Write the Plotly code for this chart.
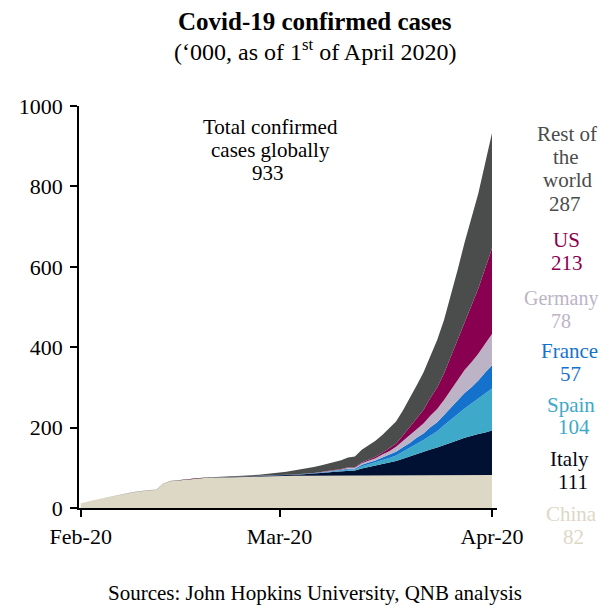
import plotly.graph_objects as go
import pandas as pd

dates = pd.date_range('2020-02-01', '2020-04-01', freq='D')

# confirmed cases, thousands (Feb 1 .. Apr 1)
china = [11.9, 16.6, 19.7, 23.7, 27.4, 30.6, 34.1, 36.8, 39.8, 42.4, 44.4, 44.8, 59.9, 66.4, 68.4, 70.5, 72.4, 74.2, 74.6, 75.1, 75.6, 77.0, 77.0, 77.2, 77.8, 78.2, 78.6, 78.9, 79.4,
         79.9, 80.1, 80.3, 80.4, 80.5, 80.7, 80.8, 80.8, 80.9, 80.9, 80.9, 80.9, 80.9, 81.0, 81.0, 81.0, 81.1, 81.1, 81.2, 81.3, 81.3, 81.4, 81.5, 81.6, 81.7, 81.8, 81.9, 82.0, 82.1, 82.2, 82.3, 82.4]
italy = [0, 0, 0, 0, 0, 0, 0, 0, 0, 0, 0, 0, 0, 0, 0, 0, 0, 0, 0, 0, 0.02, 0.06, 0.16, 0.23, 0.32, 0.45, 0.66, 0.89, 1.13,
         1.69, 2.04, 2.50, 3.09, 3.86, 4.64, 5.88, 7.38, 9.17, 10.15, 12.46, 12.46, 17.66, 21.16, 24.75, 27.98, 31.51, 35.71, 41.04, 47.02, 53.58, 59.14, 63.93, 69.18, 74.39, 80.59, 86.50, 92.47, 97.69, 101.74, 105.79, 110.57]
spain = [0, 0, 0, 0, 0, 0, 0, 0, 0, 0, 0, 0, 0, 0, 0, 0, 0, 0, 0, 0, 0, 0, 0, 0, 0.01, 0.01, 0.02, 0.03, 0.05,
         0.08, 0.12, 0.17, 0.22, 0.26, 0.40, 0.50, 0.67, 1.07, 1.70, 2.28, 2.28, 5.23, 6.39, 7.80, 9.94, 11.75, 13.91, 17.96, 20.41, 25.37, 28.77, 35.14, 39.89, 49.52, 57.79, 65.72, 73.24, 80.11, 87.96, 95.92, 104.12]
france = [0.01, 0.01, 0.01, 0.01, 0.01, 0.01, 0.01, 0.01, 0.01, 0.01, 0.01, 0.01, 0.01, 0.01, 0.01, 0.01, 0.01, 0.01, 0.01, 0.01, 0.01, 0.01, 0.01, 0.01, 0.01, 0.02, 0.04, 0.06, 0.10,
          0.13, 0.19, 0.20, 0.29, 0.38, 0.66, 0.96, 1.14, 1.22, 1.79, 2.29, 2.29, 3.68, 4.50, 4.53, 6.68, 7.72, 9.12, 10.97, 12.76, 14.46, 16.24, 20.12, 22.62, 25.60, 29.55, 33.40, 38.11, 40.71, 45.17, 52.83, 57.75]
germany = [0.01, 0.01, 0.01, 0.01, 0.01, 0.01, 0.01, 0.01, 0.01, 0.01, 0.02, 0.02, 0.02, 0.02, 0.02, 0.02, 0.02, 0.02, 0.02, 0.02, 0.02, 0.02, 0.02, 0.02, 0.02, 0.03, 0.05, 0.06, 0.07,
           0.13, 0.16, 0.20, 0.26, 0.48, 0.67, 0.80, 1.04, 1.18, 1.46, 1.91, 2.08, 3.68, 4.59, 5.80, 7.27, 9.26, 12.33, 15.32, 19.85, 22.21, 24.87, 29.06, 32.99, 37.32, 43.94, 50.87, 57.70, 62.10, 66.89, 71.81, 77.87]
us = [0.01, 0.01, 0.01, 0.01, 0.01, 0.01, 0.01, 0.01, 0.01, 0.01, 0.01, 0.01, 0.01, 0.01, 0.01, 0.01, 0.01, 0.01, 0.01, 0.01, 0.02, 0.02, 0.02, 0.05, 0.05, 0.06, 0.06, 0.06, 0.07,
      0.07, 0.10, 0.12, 0.15, 0.22, 0.26, 0.40, 0.52, 0.58, 0.96, 1.28, 1.66, 2.18, 2.73, 3.50, 4.63, 6.42, 7.78, 13.75, 19.27, 25.60, 33.28, 43.84, 53.74, 65.78, 83.84, 101.66, 121.47, 140.91, 161.83, 188.17, 213.24]
total = [12.0, 16.8, 19.9, 23.9, 27.6, 30.8, 34.4, 37.1, 40.2, 42.8, 44.8, 45.2, 60.4, 66.9, 69.0, 71.2, 73.3, 75.2, 75.7, 76.2, 76.8, 78.6, 78.9, 79.6, 80.4, 81.4, 82.8, 84.1, 86.0,
         88.4, 90.3, 92.8, 95.1, 97.9, 101.8, 105.8, 109.8, 113.6, 118.6, 125.9, 128.3, 145.2, 156.1, 167.4, 181.5, 197.1, 214.9, 242.7, 272.2, 304.5, 337.0, 378.2, 418.0, 467.7, 529.6, 593.3, 660.7, 720.1, 782.4, 857.5, 932.6]
rest = [t - (c + i + s + f + g + u) for t, c, i, s, f, g, u in zip(total, china, italy, spain, france, germany, us)]

names = ['China', 'Italy', 'Spain', 'France', 'Germany', 'US', 'Rest of the world']
series = [china, italy, spain, france, germany, us, rest]
colors = ['#DDD8C6', '#001133', '#3FA9C9', '#1572CC', '#BCB4C6', '#8A0050', '#4A4D4C']
text_colors = ['#DDD8C6', '#000814', '#3FA9C9', '#1572CC', '#BCB4C6', '#8A0050', '#4A4D4C']

label_lines = [['China', '82'], ['Italy', '111'], ['Spain', '104'], ['France', '57'],
               ['Germany', '78'], ['US', '213'], ['Rest of', 'the', 'world', '287']]
total_lines = ['Total confirmed', 'cases globally', '933']

# positions in reference pixels (page coords)
label_xy = [[(571, 514), (573, 537)], [(569, 459), (573, 482)], [(571, 405), (574, 427)], [(569, 351), (570, 374)],
            [(561, 298), (561, 321)], [(566, 240), (567, 263)], [(567, 134), (566, 157), (567, 180), (565, 204)]]
total_xy = [(270, 127), (270, 150), (268, 173)]

FONT = 'Liberation Serif'
OFF = 8  # page body margin
W, H = 609 - OFF, 612 - OFF
L, T = 79 - OFF, 106 - OFF
pw, ph = 418, 402
R, B = W - L - pw, H - T - ph


def px(x, y):
    return (x - OFF - L) / pw, (T + ph - (y - OFF)) / ph


def add_text(txt, x, y, size, color, bold=False):
    ax, ay = px(x, y)
    if bold:
        txt = '<b>' + txt + '</b>'
    fig.add_annotation(text=txt, x=ax, y=ay, xref='paper', yref='paper', xanchor='center', yanchor='middle',
                       showarrow=False, font=dict(family=FONT, size=size, color=color))


fig = go.Figure()
for name, vals, col in zip(names, series, colors):
    fig.add_trace(go.Scatter(x=dates, y=vals, name=name, mode='lines', stackgroup='one',
                             line=dict(width=0, color=col), fillcolor=col, showlegend=False))

for lines, pos, col in zip(label_lines, label_xy, text_colors):
    for txt, (x, y) in zip(lines, pos):
        add_text(txt, x, y, 20 if lines[0] == 'Germany' else 21, col)

for txt, (x, y) in zip(total_lines, total_xy):
    add_text(txt, x, y, 21, 'black')

add_text('Covid-19 confirmed cases', 315, 21, 25, 'black', bold=True)
add_text('(‘000, as of 1<sup>st</sup> of April 2020)', 315, 50, 24, 'black')
add_text('Sources: John Hopkins University, QNB analysis', 315, 593, 21, 'black')

fig.update_layout(
    width=W, height=H, margin=dict(l=L, r=R, t=T, b=B, autoexpand=False),
    paper_bgcolor='white', plot_bgcolor='white',
    font=dict(family=FONT, size=22, color='black'),
    xaxis=dict(type='date', range=['2020-01-31 18:00', '2020-04-01 17:30'],
               tickvals=['2020-02-01', '2020-03-01', '2020-04-01'], ticktext=['Feb-20', 'Mar-20', 'Apr-20'],
               showgrid=False, zeroline=False, showline=True, linecolor='black', linewidth=1.5,
               ticks='outside', ticklen=7, tickwidth=1.5, tickcolor='black', tickfont=dict(size=22),
               ticklabelstandoff=1),
    yaxis=dict(range=[0, 1000], tickvals=[0, 200, 400, 600, 800, 1000],
               showgrid=False, zeroline=False, showline=True, linecolor='black', linewidth=1.5,
               ticks='outside', ticklen=7, tickwidth=1.5, tickcolor='black', tickfont=dict(size=22),
               ticklabelstandoff=3),
)

fig.write_html('out.html')
